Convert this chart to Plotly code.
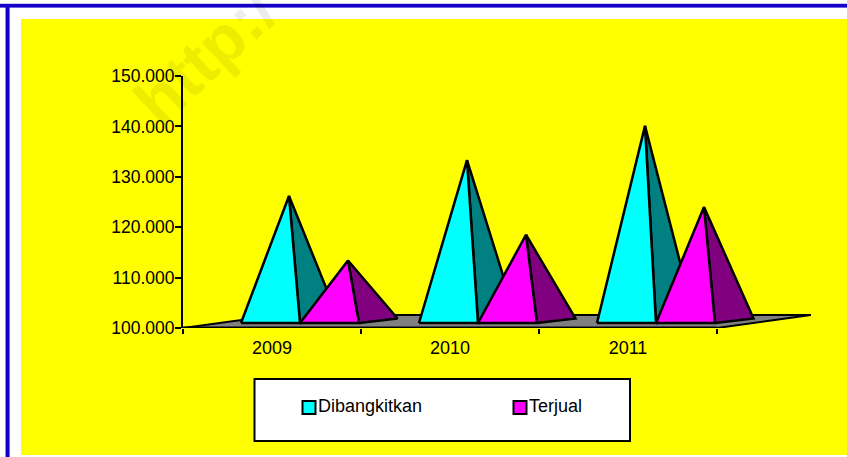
import plotly.graph_objects as go

categories = ["2009", "2010", "2011"]
dibangkitkan = [126200, 133300, 140100]
terjual = [113400, 118500, 124000]
y_ticks = [100000, 110000, 120000, 130000, 140000, 150000]
y_labels = ["100.000", "110.000", "120.000", "130.000", "140.000", "150.000"]

W, H = 847, 457
L, R, T, B = 183, 811, 76, 328   # plot box in pixels
CAT_PX = 178.0
PX_PER_VAL = (B - T) / 50000.0

def dx(px): return px / CAT_PX
def dy(px): return px / PX_PER_VAL
def pxx(x): return (x - L) / (R - L)
def pxy(y): return (B - y) / (B - T)

Y0 = 100000
bar_w = dx(59)
gap = dx(58)
base_y = Y0 + dy(5)
depth_x, depth_y = dx(38.5), dy(4.5)
tip_off = dx(48)

fig = go.Figure()
line = dict(color="black", width=2.5)

# floor
floor_x = [0, 3, 3 + dx(94), dx(94), 0]
floor_y = [Y0, Y0, Y0 + dy(13), Y0 + dy(13), Y0]
fig.add_trace(go.Scatter(x=floor_x, y=floor_y, mode="lines", fill="toself", fillcolor="#808080",
                         line=dict(color="black", width=2), hoverinfo="skip", showlegend=False, cliponaxis=False))
fig.add_trace(go.Scatter(x=[0, 3], y=[Y0, Y0], mode="lines", line=dict(color="black", width=3),
                         hoverinfo="skip", showlegend=False, cliponaxis=False))

def pyramid(x0, val, front, side, name):
    fl, fr = x0, x0 + bar_w
    br = fr + depth_x
    tip = x0 + tip_off
    fig.add_trace(go.Scatter(x=[fr, br, tip, fr], y=[base_y, base_y + depth_y, val, base_y],
                             mode="lines", fill="toself", fillcolor=side, line=line,
                             hoverinfo="skip", showlegend=False, cliponaxis=False))
    fig.add_trace(go.Scatter(x=[fl, fr, tip, fl], y=[base_y, base_y, val, base_y],
                             mode="lines", fill="toself", fillcolor=front, line=line,
                             name=name, showlegend=False, cliponaxis=False))

for i, c in enumerate(categories):
    pyramid(i + gap, dibangkitkan[i], "#00ffff", "#008080", "Dibangkitkan")
    pyramid(i + gap + bar_w, terjual[i], "#ff00ff", "#800080", "Terjual")

def rect(x0, y0, x1, y1, fill, lc=None, lw=0, layer="below"):
    return dict(type="rect", xref="paper", yref="paper", x0=pxx(x0), x1=pxx(x1), y0=pxy(y0), y1=pxy(y1),
                fillcolor=fill, line=dict(color=lc or fill, width=lw), layer=layer)

shapes = [
    rect(21, 19, W + 2, 455, "#ffff00"),
    rect(0, 3, W + 2, 8, "#c8c8f4"),
    rect(5, 3, 10, H + 2, "#c8c8f4"),
    rect(0, 4, W + 2, 7.5, "#1400c8"),
    rect(5.7, 4, 9.5, H + 2, "#1400c8"),
    rect(254.5, 379, 630, 441, "white", "black", 2),
    rect(302.5, 401, 315.5, 414, "#00ffff", "black", 2),
    rect(513.5, 401, 526.5, 414, "#ff00ff", "black", 2),
]

FONT = "Liberation Sans, Arial, sans-serif"
annotations = [
    dict(text="http:/", xref="paper", yref="paper", x=pxx(205), y=pxy(56), showarrow=False,
         textangle=-43, xanchor="center", yanchor="middle",
         font=dict(family=FONT, size=66, color="rgba(0,0,0,0.07)", weight="bold")),
    dict(text="Dibangkitkan", xref="paper", yref="paper", x=pxx(315.5), y=pxy(405.5), showarrow=False,
         xanchor="left", yanchor="middle", font=dict(family=FONT, size=18, color="black")),
    dict(text="Terjual", xref="paper", yref="paper", x=pxx(526.5), y=pxy(405.5), showarrow=False,
         xanchor="left", yanchor="middle", font=dict(family=FONT, size=18, color="black")),
]

fig.update_layout(
    width=W, height=H, autosize=False,
    margin=dict(l=L, r=W - R, t=T, b=H - B, pad=0),
    paper_bgcolor="white", plot_bgcolor="rgba(0,0,0,0)",
    shapes=shapes, annotations=annotations, showlegend=False,
    font=dict(family=FONT, color="black"),
    xaxis=dict(range=[0, 3 + dx(94)], showgrid=False, zeroline=False, showline=False,
               tickmode="array", tickvals=[0.5, 1.5, 2.5], ticktext=categories,
               ticks="outside", ticklen=3, tickcolor="rgba(0,0,0,0)", tickfont=dict(size=18),
               minor=dict(tickmode="array", tickvals=[0, 1, 2, 3], ticks="outside", ticklen=5,
                          tickwidth=1.5, tickcolor="black", showgrid=False)),
    yaxis=dict(range=[100000, 150000], showgrid=False, zeroline=False, showline=True,
               linecolor="black", linewidth=2, tickmode="array", tickvals=y_ticks, ticktext=y_labels,
               ticks="outside", ticklen=6, tickwidth=1.5, tickcolor="black", tickfont=dict(size=17.5),
               ticklabelstandoff=-3),
)

fig.write_html("out.html", config=dict(displayModeBar=False),
               post_script="document.body.style.margin='0';document.documentElement.style.overflow='hidden';")
